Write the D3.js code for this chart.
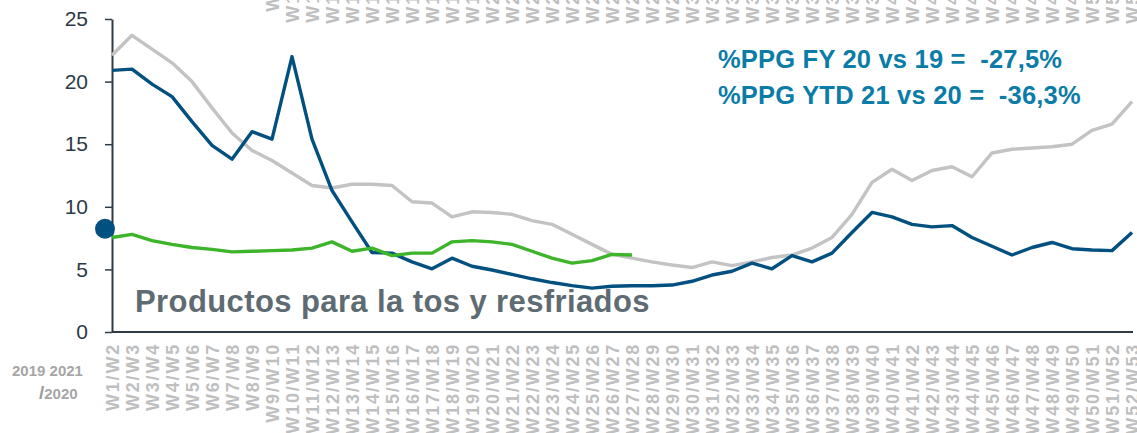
<!DOCTYPE html>
<html>
<head>
<meta charset="utf-8">
<script src="https://cdn.jsdelivr.net/npm/d3@7"></script>
<style>
  body { margin: 0; background: #fff; }
  text { font-family: "Liberation Sans", Arial, sans-serif; }
</style>
</head>
<body>
<div id="chart"></div>
<script>
// week labels on the x axis
const weeks = [];
for (let i = 1; i <= 52; i++) weeks.push(`W${i}/W${i + 1}`);

// series values
const serie2019 = [22.1, 23.7, 22.6, 21.5, 20.0, 17.9, 15.9, 14.5, 13.7, 12.7, 11.7, 11.5, 11.8,
  11.8, 11.7, 10.4, 10.3, 9.2, 9.6, 9.55, 9.4, 8.9, 8.6, 7.8, 7.0, 6.2,
  5.9, 5.6, 5.35, 5.15, 5.6, 5.3, 5.6, 5.95, 6.15, 6.7, 7.55, 9.4, 11.95, 13.0,
  12.1, 12.9, 13.2, 12.4, 14.3, 14.6, 14.7, 14.8, 15.0, 16.1, 16.6, 18.4];
const serie2020 = [20.9, 21.0, 19.8, 18.8, 16.8, 14.9, 13.8, 16.0, 15.4, 22.0, 15.4, 11.3, 8.8,
  6.35, 6.3, 5.6, 5.05, 5.9, 5.25, 4.95, 4.6, 4.25, 3.95, 3.7, 3.5, 3.65,
  3.7, 3.7, 3.75, 4.05, 4.55, 4.85, 5.5, 5.05, 6.1, 5.6, 6.3, 7.95, 9.55, 9.2,
  8.6, 8.4, 8.5, 7.55, 6.85, 6.15, 6.75, 7.15, 6.65, 6.55, 6.5, 7.95];
const serie2021 = [7.55, 7.8, 7.3, 7.0, 6.75, 6.6, 6.4, 6.45, 6.5, 6.55, 6.7, 7.2, 6.45,
  6.7, 6.1, 6.3, 6.3, 7.2, 7.3, 7.2, 7.0, 6.45, 5.9, 5.5, 5.7, 6.2, 6.15];
const dotValue = 8.25;

const yTicks = [0, 5, 10, 15, 20, 25];
const title = "Productos para la tos y resfriados";
const notes = ["%PPG FY 20 vs 19 =  -27,5%", "%PPG YTD 21 vs 20 =  -36,3%"];

// dimensions
const W = 1137, H = 433;
const margin = { top: 19, right: 5, bottom: 101, left: 112 };

const svg = d3.select("#chart").append("svg")
    .attr("width", W)
    .attr("height", H);

const x = d3.scalePoint()
    .domain(weeks)
    .range([margin.left, 1132]);

const y = d3.scaleLinear()
    .domain([0, 25])
    .range([H - margin.bottom, margin.top]);

const axisColor = "#2f3b45";

// rotated week labels
function weekLabels(g) {
  g.call(d3.axisBottom(x).tickSize(0))
  g.select(".domain").remove();
  g.selectAll("text")
      .attr("x", 0).attr("y", 0).attr("dy", null)
      .attr("text-anchor", "end")
      .attr("transform", "translate(6.5,0) rotate(-90)")
      .attr("fill", "#bfbfbf")
      .attr("font-size", 18)
      .attr("font-weight", "bold")
      .attr("letter-spacing", 1.8);
}

// labels of the chart above, cut by the top edge
svg.append("g")
    .attr("transform", "translate(0,-68)")
    .call(weekLabels);

svg.append("g")
    .attr("transform", `translate(0,${y(0) + 11})`)
    .call(weekLabels);

// x axis line
svg.append("line")
    .attr("x1", margin.left).attr("x2", x.range()[1] + 1)
    .attr("y1", y(0)).attr("y2", y(0))
    .attr("stroke", axisColor)
    .attr("stroke-width", 2);

// y axis
const yAxis = svg.append("g")
    .attr("transform", `translate(${margin.left},0)`)
    .call(d3.axisLeft(y).tickValues(yTicks).tickSize(7).tickSizeOuter(0).tickPadding(17));
yAxis.select(".domain").attr("stroke", axisColor).attr("stroke-width", 2);
yAxis.selectAll(".tick line").attr("stroke", axisColor).attr("stroke-width", 1.5);
yAxis.selectAll("text")
    .attr("fill", "#2d3a45")
    .attr("font-size", 21);

// lines
const line = d3.line()
    .x((d, i) => x(weeks[i]))
    .y(d => y(d));

const series = [
  { values: serie2019, color: "#c3c3c3" },
  { values: serie2020, color: "#02507f" },
  { values: serie2021, color: "#3db42a" }
];

svg.selectAll(".serie")
    .data(series)
    .join("path")
    .attr("class", "serie")
    .attr("fill", "none")
    .attr("stroke", d => d.color)
    .attr("stroke-width", 3.4)
    .attr("stroke-linejoin", "round")
    .attr("d", d => line(d.values));

// marker on the y axis
svg.append("circle")
    .attr("cx", x(weeks[0]) - 7)
    .attr("cy", y(dotValue))
    .attr("r", 10)
    .attr("fill", "#02507f");

// title
svg.append("text")
    .attr("x", 135)
    .attr("y", 312)
    .attr("fill", "#5f6b73")
    .attr("font-size", 31)
    .attr("font-weight", "bold")
    .attr("letter-spacing", 0.4)
    .text(title);

// notes
svg.selectAll(".note")
    .data(notes)
    .join("text")
    .attr("class", "note")
    .attr("x", 718)
    .attr("y", (d, i) => 68 + i * 36)
    .attr("fill", "#0b7ca7")
    .attr("font-size", 25.5)
    .attr("font-weight", "bold")
    .attr("letter-spacing", 0.2)
    .style("white-space", "pre")
    .text(d => d);

// year legend bottom-left
const legend = svg.append("g")
    .attr("fill", "#a6a6a6")
    .attr("font-weight", "bold")
    .attr("font-size", 15);
legend.append("text")
    .attr("x", 12).attr("y", 376)
    .text("2019 2021");
const l2 = legend.append("text")
    .attr("x", 39).attr("y", 399);
l2.append("tspan").attr("font-size", 19).attr("fill", "#9a9a9a").text("/");
l2.append("tspan").text("2020");
</script>
</body>
</html>
